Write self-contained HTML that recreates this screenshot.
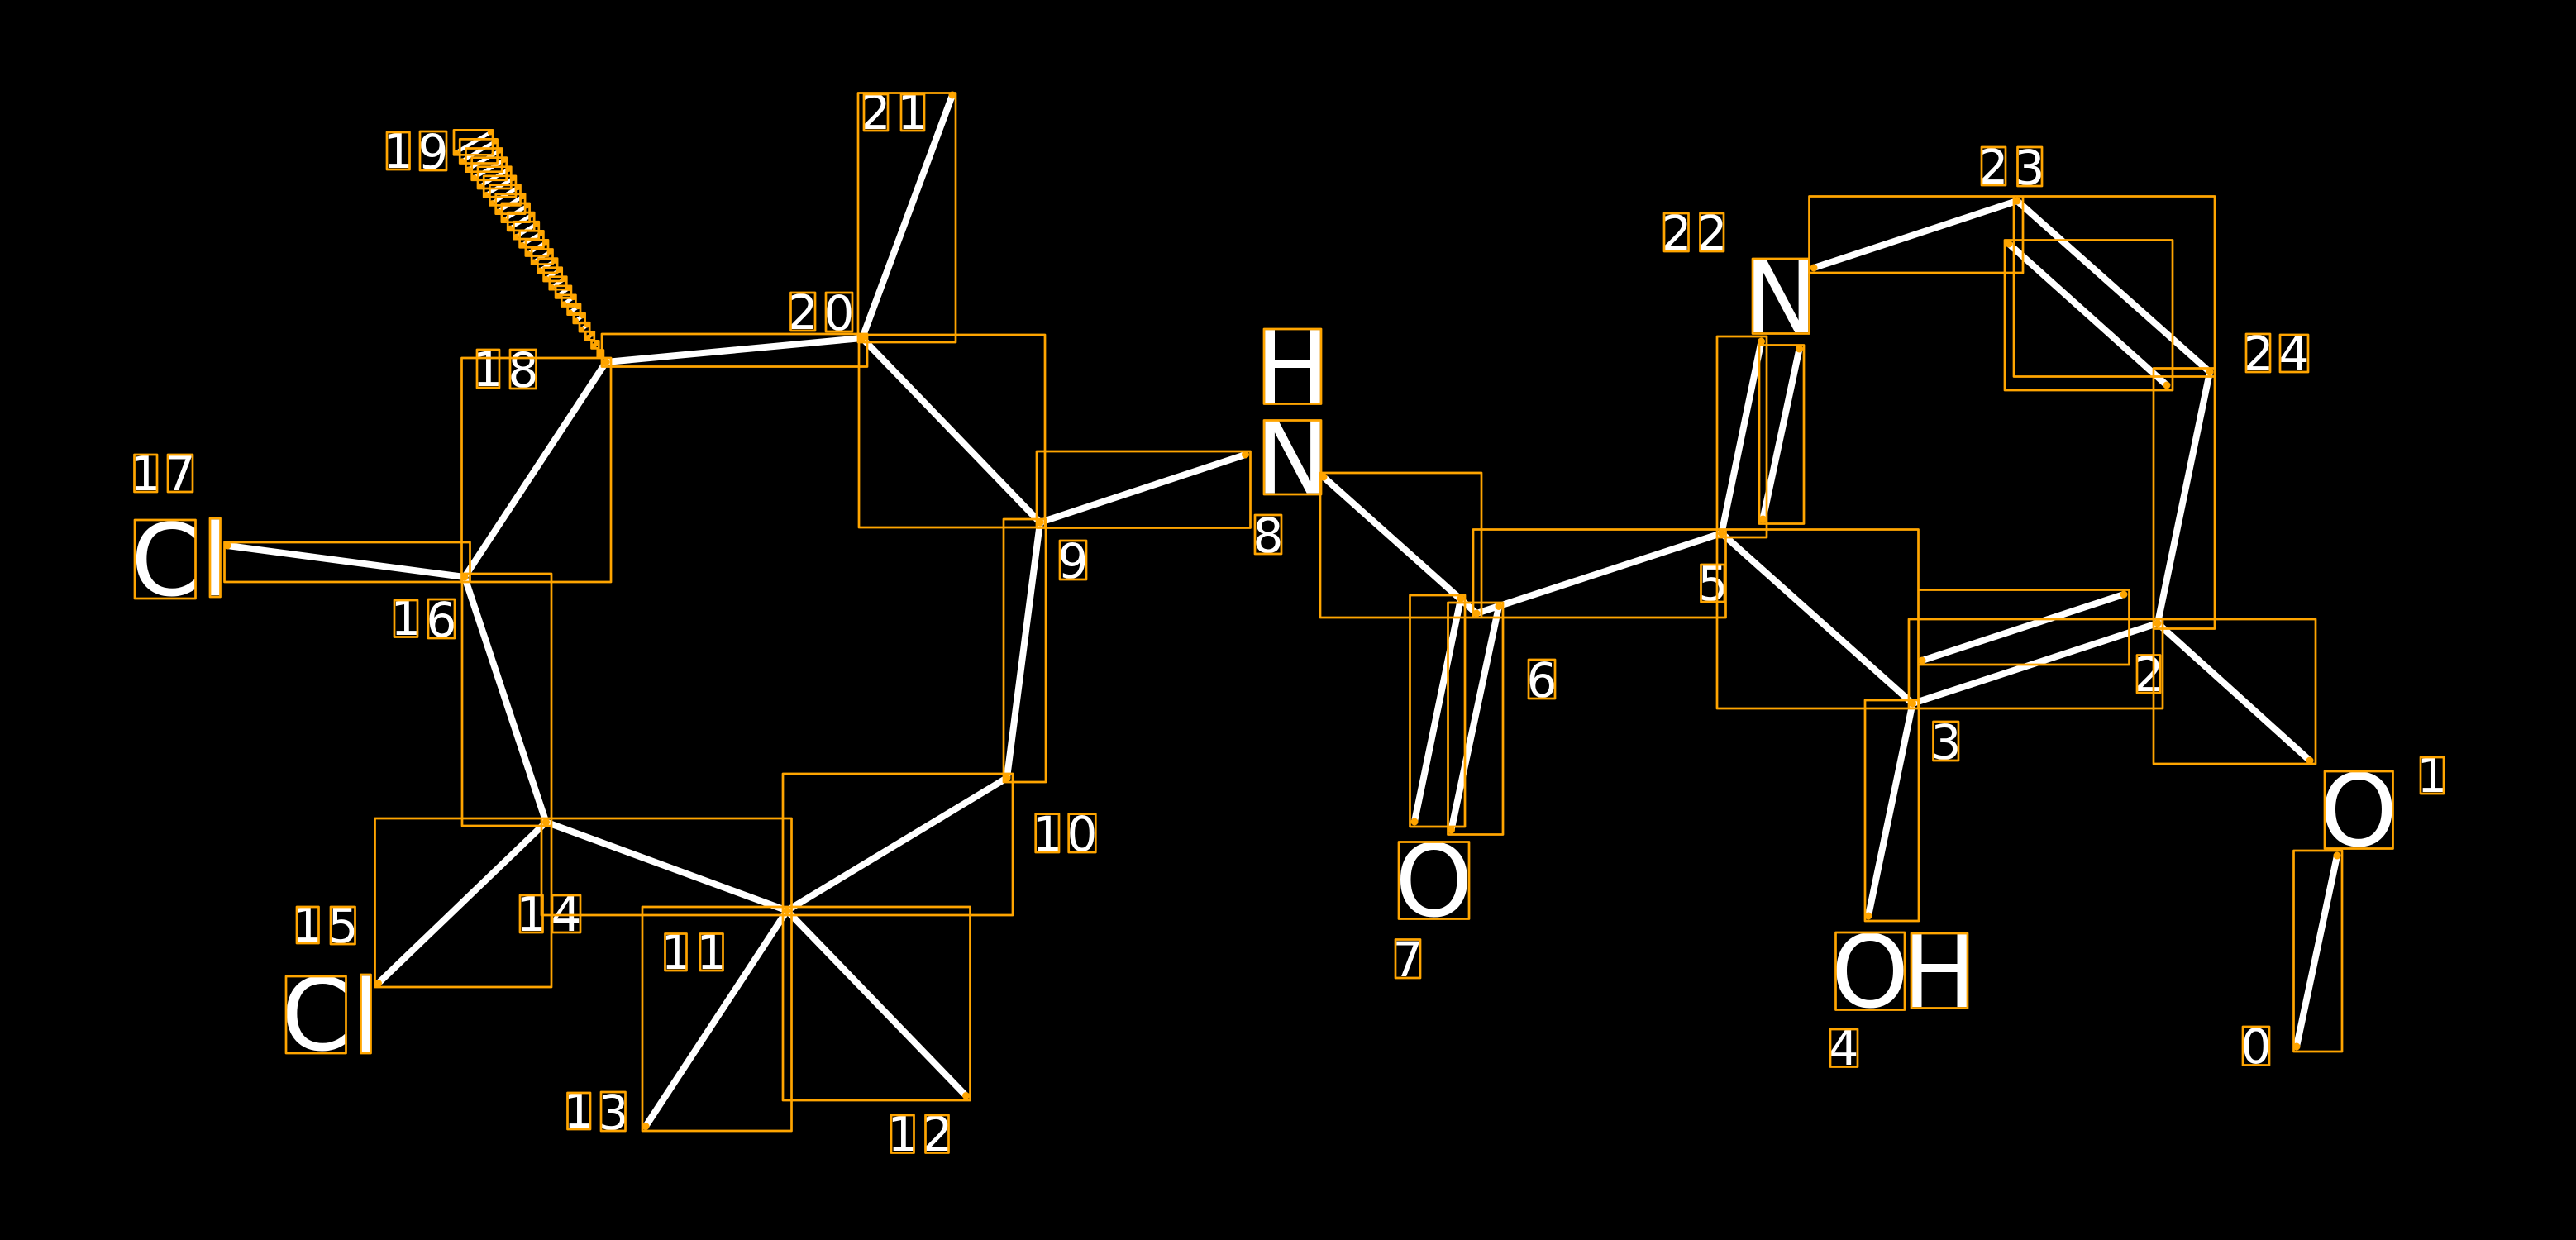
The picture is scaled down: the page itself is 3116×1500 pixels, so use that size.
<!DOCTYPE html>
<html><head><meta charset="utf-8"><style>
html,body{margin:0;padding:0;background:#000;width:3116px;height:1500px;overflow:hidden}
svg{display:block}
text{fill:#fff;font-family:"DejaVu Sans",sans-serif;text-anchor:middle}
.s text{font-size:58px}
.l text{font-size:120px}
</style></head><body>
<svg xmlns="http://www.w3.org/2000/svg" width="3116" height="1500" viewBox="0 0 3116 1500">
<rect width="3116" height="1500" fill="#000"/>
<path fill="none" stroke="#fff" stroke-width="8" stroke-linecap="round" d="M2778 1266L2827 1035M2610 754L2794 920M2313.5 851L2610 754M2325 799L2569 719M2313.5 851L2260 1108M2082.5 645L2313.5 851M1786 742L2082.5 645M1601 577L1786 742M1767 724L1711 994M1813 733.5L1755.5 1004M1258 632L1506.5 550M1258 632L1218 941M1218 941L952 1101.5M952 1101.5L1168.5 1325.5M952 1101.5L781 1362.5M952 1101.5L660.5 994.5M660.5 994.5L457.5 1189.5M660.5 994.5L562 698M562 698L275 660M562 698L733 438M733 438L1043 409M1043 409L1152 115M1043 409L1258 632M2082.5 645L2130.5 413M2176.5 422L2132.5 628M2194 324L2440 243M2440 243L2673 450M2430 295L2621 466M2673 450L2610 754"/>
<path fill="none" stroke="#fff" stroke-width="4.5" d="M552 184.3L593 160.3M559.2 194.5L598.6 171.4M566.5 204.7L604.2 182.5M573.7 214.8L609.7 193.6M581 225L615.3 204.7M588.2 235.2L620.9 215.8M595.4 245.4L626.5 226.8M602.7 255.6L632.1 237.9M609.9 265.7L637.6 249M617.2 275.9L643.2 260.1M624.4 286.1L648.8 271.2M631.6 296.3L654.4 282.3M638.9 306.5L660 293.4M646.1 316.6L665.5 304.5M653.4 326.8L671.1 315.6M660.6 337L676.7 326.7M667.8 347.2L682.3 337.7M675.1 357.4L687.9 348.8M682.3 367.5L693.4 359.9M689.6 377.7L699 371M696.8 387.9L704.6 382.1M704 398.1L710.2 393.2M711.3 408.3L715.8 404.3M718.5 418.4L721.3 415.4"/>
<g class="s">
<text x="2729" y="1286">0</text>
<text x="2942" y="958">1</text>
<text x="2599" y="836">2</text>
<text x="2354" y="918">3</text>
<text x="2230" y="1288">4</text>
<text x="2072" y="726">5</text>
<text x="1865" y="843">6</text>
<text x="1703" y="1181">7</text>
<text x="1534" y="668">8</text>
<text x="1298" y="699">9</text>
<text x="1267 1309" y="1029">10</text>
<text x="818 861" y="1172">11</text>
<text x="1092 1134" y="1392">12</text>
<text x="700 742" y="1364 1366">13</text>
<text x="643 685" y="1126">14</text>
<text x="372 415" y="1139 1140">15</text>
<text x="491 534" y="768 770">16</text>
<text x="176 218" y="593">17</text>
<text x="590 633" y="467 468">18</text>
<text x="482 524" y="203 204">19</text>
<text x="971 1015" y="398 399">20</text>
<text x="1059 1104" y="156">21</text>
<text x="2028 2071" y="302">22</text>
<text x="2411 2455" y="222 223">23</text>
<text x="2732 2775" y="448">24</text>
</g>
<g class="l">
<text x="2853" y="1023">O</text>
<text x="1734.5" y="1108">O</text>
<text x="2262 2346" y="1218">OH</text>
<text x="1563.5" y="487">H</text>
<text x="1563.5" y="596.5">N</text>
<text x="2154" y="402">N</text>
<text x="200 260" y="720">Cl</text>
<text x="382 442.5" y="1270 1272">Cl</text>
</g>
<path fill="none" stroke="#FFA500" stroke-width="2.7" stroke-linejoin="round" d="M2774.5 1029H2833V1272H2774.5ZM2605 749H2801V924H2605ZM2309 749H2616V857H2309ZM2320.5 713.5H2575.5V804H2320.5ZM2256 847H2321V1114H2256ZM2077 640.5H2320.5V857H2077ZM1782 640.5H2087.5V747H1782ZM1597 572H1792V747H1597ZM1705.5 720H1772V1000H1705.5ZM1751.5 729H1818V1009.5H1751.5ZM1254 546H1512.5V638.5H1254ZM1214 628H1265V946H1214ZM947 936H1225V1107H947ZM947 1097H1173.5V1331H947ZM777 1097H957.5V1368H777ZM655 990H957.5V1107H655ZM453.5 990H667V1194H453.5ZM559 694H667V999H559ZM271.5 656H568.5V704H271.5ZM558.5 433H739V704H558.5ZM728 404H1049V443.5H728ZM1038 112.5H1156V414H1038ZM1039 405H1264V638H1039ZM2077 407H2137V650H2077ZM2128 417.5H2182V633.5H2128ZM2188.5 237.5H2447V330H2188.5ZM2436 237.5H2679V455.5H2436ZM2425 290.5H2628V472H2425ZM2605 445.5H2679V760.5H2605Z"/>
<path fill="none" stroke="#FFA500" stroke-width="2.7" stroke-linejoin="round" d="M549 157.3H596V187.3H549ZM556.2 168.4H601.6V197.5H556.2ZM563.5 179.5H607.2V207.7H563.5ZM570.7 190.6H612.7V217.8H570.7ZM578 201.7H618.3V228H578ZM585.2 212.8H623.9V238.2H585.2ZM592.4 223.8H629.5V248.4H592.4ZM599.7 234.9H635.1V258.6H599.7ZM606.9 246H640.6V268.7H606.9ZM614.2 257.1H646.2V278.9H614.2ZM621.4 268.2H651.8V289.1H621.4ZM628.6 279.3H657.4V299.3H628.6ZM635.9 290.4H663V309.5H635.9ZM643.1 301.5H668.5V319.6H643.1ZM650.4 312.6H674.1V329.8H650.4ZM657.6 323.7H679.7V340H657.6ZM664.8 334.7H685.3V350.2H664.8ZM672.1 345.8H690.9V360.4H672.1ZM679.3 356.9H696.4V370.5H679.3ZM686.6 368H702V380.7H686.6ZM693.8 379.1H707.6V390.9H693.8ZM701 390.2H713.2V401.1H701ZM708.3 401.3H718.8V411.3H708.3ZM715.5 412.4H724.3V421.4H715.5ZM722.8 423.5H729.9V431.6H722.8Z"/>
<path fill="none" stroke="#FFA500" stroke-width="2.7" stroke-linejoin="round" d="M2713 1242H2745V1288.5H2713ZM2928 916H2956V960H2928ZM2585 792.5H2613V838H2585ZM2338.5 873H2369V920H2338.5ZM2214 1245H2247V1290.5H2214ZM2057.5 683H2086V728H2057.5ZM1849 798H1881V845H1849ZM1688 1136.5H1718V1183H1688ZM1518 623H1550V670H1518ZM1282 654H1314V701H1282ZM1252.7 984.7H1281V1031H1252.7ZM1292.7 984.7H1325.3V1031H1292.7ZM804.5 1129.5H830.5V1174H804.5ZM847 1129.5H874.5V1174H847ZM1078 1349H1105.5V1394.5H1078ZM1119.5 1349H1147.5V1394.5H1119.5ZM686.5 1322H714V1366H686.5ZM727 1321H756.5V1368H727ZM629 1083H656.5V1128H629ZM668 1083H702V1128H668ZM359 1097H385.5V1141H359ZM400 1097H429.5V1142H400ZM477 726H505V770.5H477ZM518 725H550V772H518ZM162.5 550H190V595H162.5ZM203 550H233V595H203ZM577 423H604V469H577ZM617 423H648.5V470H617ZM468 160H495.5V205H468ZM508 159H540V206H508ZM956.5 354H986V400H956.5ZM999 354H1031V401H999ZM1045 114H1074V158H1045ZM1090 114H1118V158H1090ZM2013 258H2042.5V304H2013ZM2056.5 258H2085V304H2056.5ZM2397 178H2426V224H2397ZM2440.5 178H2470V225H2440.5ZM2717 404H2746V450H2717ZM2758 405H2792V450H2758ZM2812 933H2894.5V1026.5H2812ZM1692 1018.5H1777V1111.5H1692ZM2220.5 1128H2304V1221.5H2220.5ZM2312 1129H2380V1219.5H2312ZM1529 398H1598V488.5H1529ZM1529 508.5H1598V598H1529ZM2120 313H2188.5V403.5H2120ZM163 629H236.5V724H163ZM254 627H266.5V722H254ZM346 1181H418.5V1274H346ZM436.5 1179H448.5V1274H436.5Z"/>
<path fill="none" stroke="#FFA500" stroke-width="9" stroke-linecap="round" d="M2778 1266h0M2827 1035h0M2610 754h0M2794 920h0M2313.5 851h0M2325 799h0M2569 719h0M2260 1108h0M2082.5 645h0M1786 742h0M1601 577h0M1767 724h0M1711 994h0M1813 733.5h0M1755.5 1004h0M1258 632h0M1506.5 550h0M1218 941h0M952 1101.5h0M1168.5 1325.5h0M781 1362.5h0M660.5 994.5h0M457.5 1189.5h0M562 698h0M275 660h0M733 438h0M1043 409h0M1152 115h0M2130.5 413h0M2176.5 422h0M2132.5 628h0M2194 324h0M2440 243h0M2673 450h0M2430 295h0M2621 466h0M726 428h0"/>
<path fill="none" stroke="#FFA500" stroke-width="6.5" stroke-linecap="round" d="M552 184.3h0M593 160.3h0M559.2 194.5h0M598.6 171.4h0M566.5 204.7h0M604.2 182.5h0M573.7 214.8h0M609.7 193.6h0M581 225h0M615.3 204.7h0M588.2 235.2h0M620.9 215.8h0M595.4 245.4h0M626.5 226.8h0M602.7 255.6h0M632.1 237.9h0M609.9 265.7h0M637.6 249h0M617.2 275.9h0M643.2 260.1h0M624.4 286.1h0M648.8 271.2h0M631.6 296.3h0M654.4 282.3h0M638.9 306.5h0M660 293.4h0M646.1 316.6h0M665.5 304.5h0M653.4 326.8h0M671.1 315.6h0M660.6 337h0M676.7 326.7h0M667.8 347.2h0M682.3 337.7h0M675.1 357.4h0M687.9 348.8h0M682.3 367.5h0M693.4 359.9h0M689.6 377.7h0M699 371h0M696.8 387.9h0M704.6 382.1h0M704 398.1h0M710.2 393.2h0M711.3 408.3h0M715.8 404.3h0M718.5 418.4h0M721.3 415.4h0"/>
</svg>
</body></html>
